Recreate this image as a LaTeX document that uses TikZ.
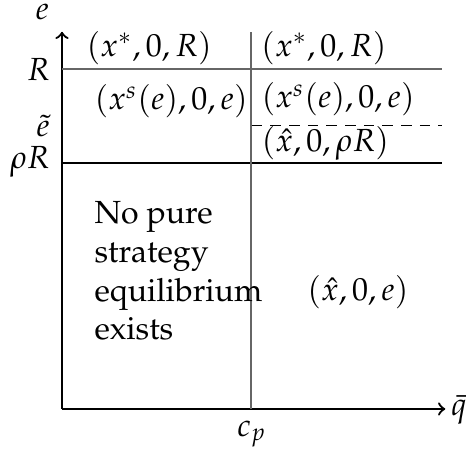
\documentclass[tikz,border=0pt,12pt]{standalone}
\usepackage[T1]{fontenc}
\usepackage{mathpazo}
\begin{document}
\begin{tikzpicture}[line width=0.5pt,
    lbl/.style={inner sep=1.5pt},
    axis/.style={line width=0.85pt, ->},
    guide/.style={line width=0.55pt, gray!80!black}]
  \useasboundingbox (-0.817,-0.553) rectangle (5.323,5.389);
  % axes
  \coordinate (O) at (0.000,0.000);
  \coordinate (Xend) at (5.050,0.000);
  \coordinate (Ytop) at (0.000,4.970);
  \draw[axis] (O) -- (Xend);
  \draw[axis] (O) -- (Ytop);
  % thresholds
  \coordinate (Rl) at (0.000,4.480);
  \coordinate (Rr) at (5.010,4.480);
  \coordinate (rRl) at (0.000,3.240);
  \coordinate (rRr) at (5.010,3.240);
  \coordinate (cpb) at (2.490,0.000);
  \coordinate (cpt) at (2.490,4.970);
  \coordinate (etl) at (2.500,3.740);
  \coordinate (etr) at (5.010,3.740);
  \draw[guide] (Rl) -- (Rr);
  \draw (rRl) -- (rRr);
  \draw[guide] (cpb) -- (cpt);
  \draw[dashed, line width=0.45pt, dash pattern=on 4pt off 3pt] (etl) -- (etr);
  % axis labels
  \node[lbl] (lbe) at (-0.260,5.230) {$e$};
  \node[anchor=west, inner sep=0pt] (lbq) at (5.120,-0.010) {$\bar{q}$};
  \node[lbl] (lbcp) at (2.500,-0.330) {$c_p$};
  \node[lbl, anchor=east] (lbR) at (-0.100,4.470) {$R$};
  \node[lbl] (lbet) at (-0.250,3.730) {$\tilde{e}$};
  \node[lbl, anchor=east] (lbrR) at (-0.100,3.260) {$\rho R$};
  % regions
  \node[lbl] (tl) at (1.150,4.760) {$(x^*,0,R)$};
  \node[lbl] (tr) at (3.450,4.760) {$(x^*,0,R)$};
  \node[lbl] (ml) at (1.440,4.050) {$(x^s(e),0,e)$};
  \node[lbl] (mr) at (3.640,4.080) {$(x^s(e),0,e)$};
  \node[lbl] (lr) at (3.470,3.500) {$(\hat{x},0,\rho R)$};
  \node[lbl] (br) at (3.900,1.540) {$(\hat{x},0,e)$};
  \node[lbl, anchor=north west, align=left, inner sep=0pt] (nope) at (0.420,2.740)
    {No pure\\strategy\\equilibrium\\exists};
\end{tikzpicture}
\end{document}
